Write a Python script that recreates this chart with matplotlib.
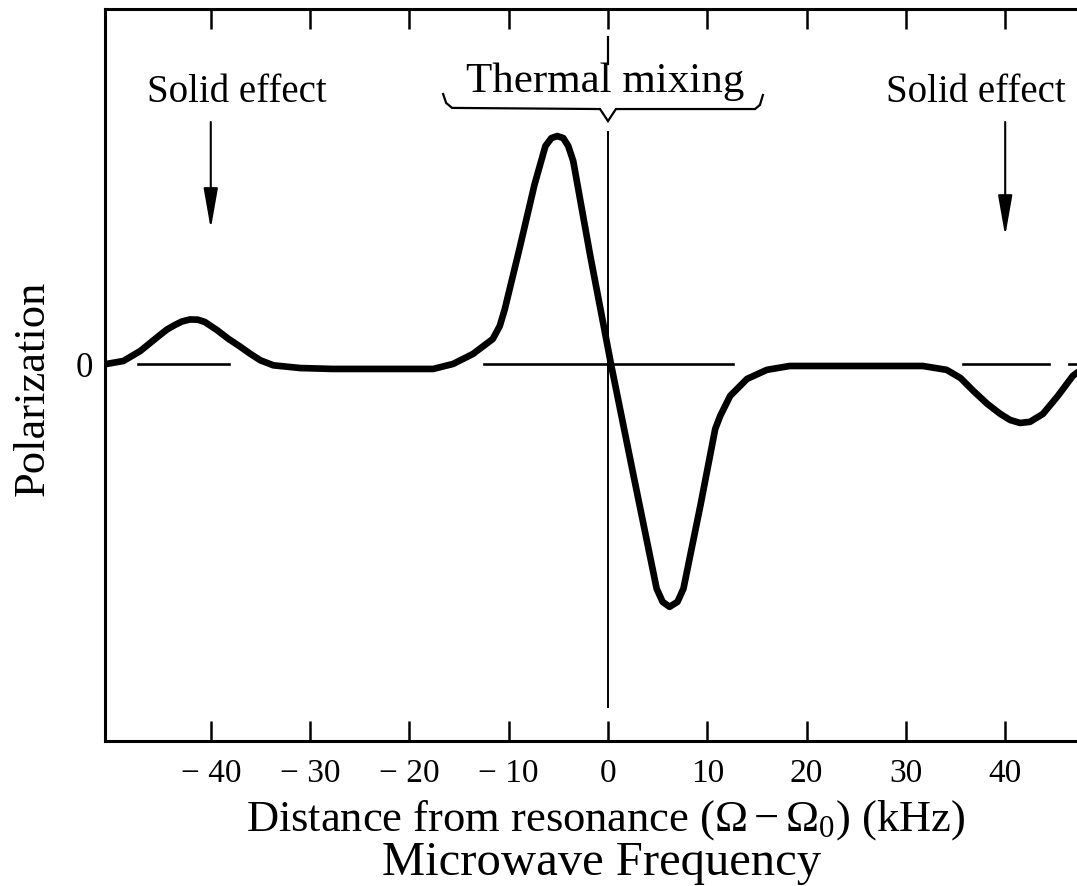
import matplotlib
matplotlib.use("Agg")
import matplotlib.pyplot as plt
import matplotlib.transforms as mtransforms

plt.rcParams["font.family"] = "Liberation Serif"
plt.rcParams["mathtext.fontset"] = "custom"
plt.rcParams["mathtext.rm"] = "Liberation Serif"
plt.rcParams["mathtext.it"] = "Liberation Serif:italic"

# DNP enhancement curve: frequency offset (kHz) vs polarization (arb. units)
freq = [-50.5, -48.8, -47.1, -45.1, -44.4, -43.6, -42.9, -42.1, -41.3, -40.6,
        -39.4, -38.2, -37.1, -36.0, -35.0, -33.7, -31.0, -27.7, -17.6, -15.6,
        -13.6, -11.6, -10.9, -10.4, -8.9, -7.4, -6.3, -5.7, -5.1, -4.5,
        -4.0, -3.5, -1.8, 0.3, 2.5, 4.9, 5.5, 6.2, 7.0, 7.6,
        9.3, 10.8, 11.3, 12.3, 14.0, 16.0, 18.3, 31.7, 34.1, 35.5,
        36.8, 38.2, 39.5, 40.5, 41.5, 42.5, 43.8, 45.3, 46.8, 48.0]
pol = [0.0, 0.013, 0.057, 0.128, 0.152, 0.172, 0.187, 0.196, 0.195, 0.185,
       0.150, 0.110, 0.078, 0.044, 0.016, -0.006, -0.018, -0.022, -0.022, 0.0,
       0.044, 0.11, 0.167, 0.24, 0.51, 0.79, 0.96, 0.995, 1.004, 0.995,
       0.96, 0.894, 0.48, 0.0, -0.476, -0.99, -1.048, -1.07, -1.048, -0.99,
       -0.625, -0.286, -0.229, -0.141, -0.066, -0.026, -0.009, -0.009, -0.026, -0.062,
       -0.119, -0.176, -0.22, -0.247, -0.26, -0.255, -0.22, -0.141, -0.053, -0.013]

tick_values = [-40, -30, -20, -10, 0, 10, 20, 30, 40]
tick_labels = ["− 40", "− 30", "− 20", "− 10", "0", "10", "20", "30", "40"]

# pieces of the zero baseline
zero_segments = [(-47.3, -38.2), (-12.5, 12.6), (35.7, 44.4), (46.4, 47.3)]

# "Thermal mixing" brace outline
brace_x = [-16.6, -16.3, -15.7, -0.8, 0.0, 0.8, 14.8, 15.3, 15.6]
brace_y = [1.189, 1.150, 1.128, 1.123, 1.070, 1.123, 1.123, 1.141, 1.185]

fig = plt.figure(figsize=(10.77, 8.87), dpi=100)
ax = fig.add_axes([0.0975, 0.1635, 0.9025, 0.8253])

ax.plot(freq, pol, color="black", lw=4.8, solid_joinstyle="round",
        solid_capstyle="round", zorder=3)

for x0, x1 in zero_segments:
    ax.plot([x0, x1], [0, 0], color="black", lw=1.9, zorder=2)

# resonance marker
ax.plot([0, 0], [1.02, -1.51], color="black", lw=1.4, zorder=2)
ax.plot([0, 0], [1.44, 1.32], color="black", lw=1.6, zorder=2)

ax.plot(brace_x, brace_y, color="black", lw=1.6, solid_joinstyle="miter")

ax.text(-37.4, 1.159, "Solid effect", ha="center", va="baseline", fontsize=28)
ax.text(37.0, 1.159, "Solid effect", ha="center", va="baseline", fontsize=28,
        clip_on=False)
ax.text(-0.3, 1.203, "Thermal mixing", ha="center", va="baseline", fontsize=31)

arrow = dict(arrowstyle="-|>,head_length=1.25,head_width=0.22",
             color="black", lw=1.5, mutation_scale=20, shrinkA=0, shrinkB=0)
ax.annotate("", xy=(-40, 0.595), xytext=(-40, 1.066), arrowprops=arrow)
ax.annotate("", xy=(40, 0.564), xytext=(40, 1.066), arrowprops=arrow)

ax.set_xlim(-50.65, 47.23)
ax.set_ylim(-1.661, 1.564)

ax.set_xticks(tick_values)
ax.set_xticklabels(tick_labels, fontsize=24)
for lab, val in zip(ax.get_xticklabels(), tick_values):
    if val < 0:
        lab.set_transform(lab.get_transform() + mtransforms.ScaledTranslation(
            9.8 / 72, 0, fig.dpi_scale_trans))
ax.tick_params(axis="x", direction="in", length=14.4, width=1.8, top=True,
               bottom=True, pad=12)
ax.set_yticks([0])
ax.set_yticklabels(["0"], fontsize=25)
ax.tick_params(axis="y", length=0, pad=9)

for side in ["left", "top", "bottom"]:
    ax.spines[side].set_linewidth(2.2)
ax.spines["right"].set_visible(False)

fig.text(0.0306, 0.5626, "Polarization", rotation=90, ha="center", va="center",
         fontsize=32)
fig.text(0.5627, 0.0640, r"Distance from resonance $(\Omega-\Omega_0)$ (kHz)",
         ha="center", va="baseline", fontsize=32)
fig.text(0.5585, 0.0130, "Microwave Frequency", ha="center", va="baseline",
         fontsize=35)

fig.savefig("out.png", dpi=100)
